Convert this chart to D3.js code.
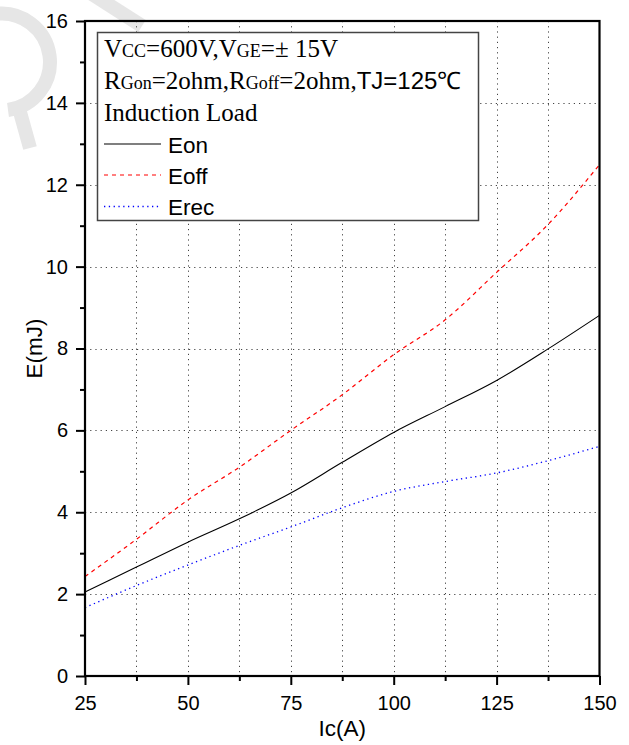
<!DOCTYPE html>
<html><head><meta charset="utf-8">
<script src="https://cdn.jsdelivr.net/npm/d3@7"></script>
<style>body{margin:0;background:#fff}</style>
</head><body>
<svg id="c" width="629" height="745"></svg>
<script>
// ---- data ----
const current = [25, 37.5, 50, 62.5, 75, 87.5, 100, 112.5, 125, 137.5, 150];
const eon  = [2.05, 2.66, 3.27, 3.84, 4.47, 5.22, 5.95, 6.58, 7.22, 7.99, 8.81];
const eoff = [2.43, 3.34, 4.30, 5.10, 6.00, 6.87, 7.85, 8.70, 9.86, 11.03, 12.49];
const erec = [1.67, 2.21, 2.71, 3.19, 3.64, 4.11, 4.51, 4.75, 4.96, 5.26, 5.61];
const seriesNames = ["Eon", "Eoff", "Erec"];
const xMajor = [25, 50, 75, 100, 125, 150];
const xMinor = [37.5, 62.5, 87.5, 112.5, 137.5];
const yMajor = [0, 2, 4, 6, 8, 10, 12, 14, 16];
const yMinor = [1, 3, 5, 7, 9, 11, 13, 15];
const xGrid = [37.5, 50, 62.5, 75, 87.5, 100, 112.5, 125, 137.5];
const yGrid = [2, 4, 6, 8, 10, 12, 14];
const xTitle = "Ic(A)", yTitle = "E(mJ)";

const svg = d3.select("#c");
const L = 85, R = 599.5, T = 21, B = 676;
const x = d3.scaleLinear().domain([25, 150]).range([L, R]);
const y = d3.scaleLinear().domain([0, 16]).range([B, T]);
const sans = "'Liberation Sans', Arial, sans-serif";
const serif = "'Liberation Serif', 'Times New Roman', serif";

svg.append("rect").attr("width", 629).attr("height", 745).attr("fill", "#fff");

// faint watermark
const wm = svg.append("g").attr("fill", "none").attr("stroke", "#e6e6e6").attr("stroke-width", 14);
wm.append("path").attr("d", "M -5 14 A 46 46 0 1 1 8 110");
wm.append("path").attr("d", "M 20 112 L 30 148");
wm.append("path").attr("d", "M 92 -6 L 142 26");

// grid
const grid = svg.append("g").attr("stroke", "#444").attr("stroke-width", 1).attr("stroke-dasharray", "1.2,4");
grid.selectAll(".gx").data(xGrid).join("line")
  .attr("x1", d => Math.round(x(d)) + 0.5).attr("x2", d => Math.round(x(d)) + 0.5)
  .attr("y1", T).attr("y2", B);
grid.selectAll(".gy").data(yGrid).join("line")
  .attr("y1", d => Math.round(y(d)) + 0.5).attr("y2", d => Math.round(y(d)) + 0.5)
  .attr("x1", L).attr("x2", R);

// curves
const line = d3.line().curve(d3.curveMonotoneX);
const styles = [
  {data: eon, color: "#000", dash: null, w: 1.1},
  {data: eoff, color: "#ff0000", dash: "4,4", w: 1.2},
  {data: erec, color: "#0000ff", dash: "1.3,3.5", w: 1.3}
];
styles.forEach(s => {
  svg.append("path")
    .attr("d", line(current.map((c, i) => [x(c), y(s.data[i])])))
    .attr("fill", "none").attr("stroke", s.color).attr("stroke-width", s.w)
    .attr("stroke-dasharray", s.dash);
});

// axes
function styleAxis(g) {
  g.select(".domain").remove();
  g.selectAll(".tick line").attr("stroke", "#000").attr("stroke-width", 2);
  g.selectAll("text").attr("font-family", sans).attr("font-size", 20).attr("fill", "#000");
}
svg.append("g").attr("transform", `translate(0,${B})`)
  .call(d3.axisBottom(x).tickValues(xMajor).tickSize(9).tickPadding(11).tickFormat(d3.format("d")))
  .call(styleAxis);
svg.append("g").attr("transform", `translate(0,${B})`)
  .call(d3.axisBottom(x).tickValues(xMinor).tickSize(5).tickFormat(""))
  .call(styleAxis);
svg.append("g").attr("transform", `translate(${L},0)`)
  .call(d3.axisLeft(y).tickValues(yMajor).tickSize(9).tickPadding(8).tickFormat(d3.format("d")))
  .call(styleAxis);
svg.append("g").attr("transform", `translate(${L},0)`)
  .call(d3.axisLeft(y).tickValues(yMinor).tickSize(5).tickFormat(""))
  .call(styleAxis);

// frame
svg.append("rect").attr("x", L).attr("y", T).attr("width", R - L).attr("height", B - T)
  .attr("fill", "none").attr("stroke", "#000").attr("stroke-width", 2.2);

// axis titles
svg.append("text").attr("x", (L + R) / 2).attr("y", 736).attr("text-anchor", "middle")
  .attr("font-family", sans).attr("font-size", 22.5).text(xTitle);
svg.append("text").attr("transform", `translate(42,${(T + B) / 2}) rotate(-90)`)
  .attr("text-anchor", "middle").attr("font-family", sans).attr("font-size", 22.5).text(yTitle);

// legend
const lg = svg.append("g");
lg.append("rect").attr("x", 97.5).attr("y", 32.5).attr("width", 381).attr("height", 188)
  .attr("fill", "#fff").attr("stroke", "#444").attr("stroke-width", 1.5);

function richLine(yb, parts) {
  const t = lg.append("text").attr("x", 104).attr("y", yb).attr("fill", "#000");
  parts.forEach(p => t.append("tspan").attr("font-family", p[2] || serif).attr("font-size", p[1]).text(p[0]));
}
richLine(57, [["V", 25], ["CC", 18], ["=600V,V", 25], ["GE", 18], ["=\u00b1 15V", 25]]);
richLine(89, [["R", 25], ["Gon", 18], ["=2ohm,R", 25], ["Goff", 18], ["=2ohm,", 25], ["TJ=125\u2103", 24, sans]]);
richLine(121, [["Induction Load", 25]]);

const legY = [144, 175, 206.5];
styles.forEach((s, i) => {
  lg.append("line").attr("x1", 104).attr("x2", 161).attr("y1", legY[i]).attr("y2", legY[i])
    .attr("stroke", s.color).attr("stroke-width", s.w).attr("stroke-dasharray", s.dash);
  lg.append("text").attr("x", 168).attr("y", legY[i] + 8.5).attr("font-family", sans)
    .attr("font-size", 22.5).text(seriesNames[i]);
});
</script>
</body></html>
